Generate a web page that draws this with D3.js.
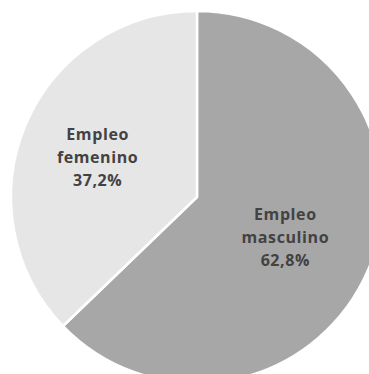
<!DOCTYPE html>
<html>
<head>
<meta charset="utf-8">
<script src="https://cdn.jsdelivr.net/npm/d3@7"></script>
<style>
  html, body { margin: 0; padding: 0; background: #ffffff; }
  svg { display: block; }
  .lbl { font-family: "Open Sans", sans-serif; font-weight: 700; font-size: 16px; fill: #424242; letter-spacing: 0.6px; }
</style>
</head>
<body>
<svg id="chart" width="369" height="374"></svg>
<script>
// Employment share by sex
const categories = ["Empleo masculino", "Empleo femenino"];
const labelLines = [["Empleo", "masculino"], ["Empleo", "femenino"]];
const values = [62.8, 37.2];
const colors = ["#a7a7a7", "#e6e6e6"];
const labelRadius = [96, 108];

const svg = d3.select("#chart");
const cx = 197, cy = 197, radius = 186;

const g = svg.append("g").attr("transform", `translate(${cx},${cy})`);

const pie = d3.pie().sort(null).value(d => d.value);
const data = categories.map((c, i) => ({ name: c, value: values[i], lines: labelLines[i], color: colors[i], lr: labelRadius[i] }));
const arcs = pie(data);

const arc = d3.arc().innerRadius(0).outerRadius(radius);

g.selectAll("path.slice")
  .data(arcs)
  .join("path")
  .attr("class", "slice")
  .attr("d", arc)
  .attr("fill", d => d.data.color)
  .attr("stroke", "#ffffff")
  .attr("stroke-width", 2.5)
  .attr("stroke-linejoin", "round");

const fmt = v => v.toFixed(1).replace(".", ",") + "%";

arcs.forEach(a => {
  const la = d3.arc().innerRadius(a.data.lr).outerRadius(a.data.lr);
  const [x, y] = la.centroid(a);
  const lines = a.data.lines.concat([fmt(a.data.value)]);
  const lh = 23;
  const t = g.append("text")
    .attr("class", "lbl")
    .attr("text-anchor", "middle")
    .attr("x", x)
    .attr("y", y + 8 - lh * (lines.length - 1) / 2);
  lines.forEach((ln, i) => {
    t.append("tspan").attr("x", x).attr("dy", i === 0 ? 0 : lh).text(ln);
  });
});
</script>
</body>
</html>
